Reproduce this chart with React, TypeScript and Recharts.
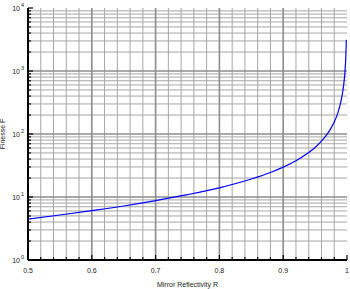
import React from 'react';
import { LineChart, Line, XAxis, YAxis, ReferenceLine } from 'recharts';

const reflectivity = [0.5, 0.55, 0.6, 0.65, 0.7, 0.75, 0.8, 0.85, 0.88, 0.9, 0.92, 0.94, 0.95, 0.96, 0.97, 0.975, 0.98, 0.985, 0.99, 0.992, 0.994, 0.995, 0.996, 0.997, 0.998, 0.999];
const finesse = [4.44, 5.18, 6.08, 7.2, 8.76, 10.9, 14.0, 19.3, 24.5, 29.8, 37.7, 50.8, 61.2, 76.9, 103, 124, 155, 207, 313, 392, 523, 627, 784, 1047, 1570, 3140];

const xMajorTicks = [0.5, 0.6, 0.7, 0.8, 0.9, 1];
const xTickLabels = ['0.5', '0.6', '0.7', '0.8', '0.9', '1'];
const xMinorTicks = [0.52, 0.54, 0.56, 0.58, 0.62, 0.64, 0.66, 0.68, 0.72, 0.74, 0.76, 0.78, 0.82, 0.84, 0.86, 0.88, 0.92, 0.94, 0.96, 0.98];
const yMajorTicks = [1, 10, 100, 1000, 10000];
const yExponents = ['0', '1', '2', '3', '4'];
const yMinorTicks = [2, 3, 4, 5, 6, 7, 8, 9, 20, 30, 40, 50, 60, 70, 80, 90, 200, 300, 400, 500, 600, 700, 800, 900, 2000, 3000, 4000, 5000, 6000, 7000, 8000, 9000];

const data = reflectivity.map((r, i) => ({ r, f: finesse[i] }));
const allX = [...xMajorTicks, ...xMinorTicks].sort((a, b) => a - b);
const allY = [...yMajorTicks, ...yMinorTicks].sort((a, b) => a - b);

const FONT = 'Liberation Sans, Arial, sans-serif';

const BottomTick = (props: any) => {
  const { x, y, payload } = props;
  const v = payload.value;
  const idx = xMajorTicks.findIndex((t) => Math.abs(t - v) < 1e-9);
  const major = idx >= 0;
  return (
    <g>
      <line x1={x} x2={x} y1={y} y2={y - (major ? 5 : 3)} stroke="#000" strokeWidth={1.2} />
      {major && (
        <text x={x} y={y + 13} textAnchor="middle" fontSize={7} fontFamily={FONT} fill="#222">
          {xTickLabels[idx]}
        </text>
      )}
    </g>
  );
};

const TopTick = (props: any) => {
  const { x, y, payload } = props;
  const v = payload.value;
  const major = xMajorTicks.some((t) => Math.abs(t - v) < 1e-9);
  return <line x1={x} x2={x} y1={y} y2={y + (major ? 5 : 3)} stroke="#000" strokeWidth={1.2} />;
};

const LeftTick = (props: any) => {
  const { x, y, payload } = props;
  const v = payload.value;
  const idx = yMajorTicks.findIndex((t) => Math.abs(t - v) < 1e-9);
  const major = idx >= 0;
  return (
    <g>
      <line x1={x} x2={x + (major ? 5 : 3)} y1={y} y2={y} stroke="#000" strokeWidth={1.2} />
      {major && (
        <text x={x - 8} y={y + 2.5} textAnchor="end" fontSize={7} fontFamily={FONT} fill="#222">
          10
        </text>
      )}
      {major && (
        <text x={x - 7} y={y - 1} textAnchor="start" fontSize={5.5} fontFamily={FONT} fill="#222">
          {yExponents[idx]}
        </text>
      )}
    </g>
  );
};

const RightTick = (props: any) => {
  const { x, y, payload } = props;
  const v = payload.value;
  const major = yMajorTicks.some((t) => Math.abs(t - v) < 1e-9);
  return <line x1={x} x2={x - (major ? 5 : 3)} y1={y} y2={y} stroke="#000" strokeWidth={1.2} />;
};

export default function App() {
  return (
    <div style={{ position: 'absolute', left: 0, top: 0, width: 350, height: 289, background: '#fff' }}>
      <LineChart width={350} height={289} data={data} margin={{ top: 8, right: 3, bottom: 0, left: 0 }}>
        <XAxis
          xAxisId="b"
          dataKey="r"
          type="number"
          domain={[0.5, 1]}
          ticks={allX}
          interval={0}
          height={29}
          tickSize={0}
          tickMargin={0}
          tick={<BottomTick />}
          axisLine={{ stroke: '#000', strokeWidth: 2 }}
          tickLine={false}
          allowDataOverflow
          label={{ value: 'Mirror Reflectivity R', position: 'insideBottom', offset: 2, fontSize: 7, fontFamily: FONT, fill: '#222' }}
        />
        <XAxis
          xAxisId="t"
          orientation="top"
          dataKey="r"
          type="number"
          domain={[0.5, 1]}
          ticks={allX}
          interval={0}
          height={0}
          tickSize={0}
          tickMargin={0}
          tick={<TopTick />}
          axisLine={{ stroke: '#000', strokeWidth: 2 }}
          tickLine={false}
          allowDataOverflow
        />
        <YAxis
          yAxisId="l"
          dataKey="f"
          scale="log"
          type="number"
          domain={[1, 10000]}
          ticks={allY}
          interval={0}
          width={28}
          tickSize={0}
          tickMargin={0}
          tick={<LeftTick />}
          axisLine={{ stroke: '#000', strokeWidth: 2 }}
          tickLine={false}
          allowDataOverflow
          label={{ value: 'Finesse F', angle: -90, position: 'insideLeft', offset: 3, fontSize: 7, fontFamily: FONT, fill: '#222', style: { textAnchor: 'middle' } }}
        />
        <YAxis
          yAxisId="r"
          orientation="right"
          dataKey="f"
          scale="log"
          type="number"
          domain={[1, 10000]}
          ticks={allY}
          interval={0}
          width={0}
          tickSize={0}
          tickMargin={0}
          tick={<RightTick />}
          axisLine={{ stroke: '#000', strokeWidth: 2 }}
          tickLine={false}
          allowDataOverflow
        />
        {xMinorTicks.map((v) => (
          <ReferenceLine key={'vx' + v} x={v} xAxisId="b" yAxisId="l" stroke="#a6a6a6" strokeWidth={1} />
        ))}
        {yMinorTicks.map((v) => (
          <ReferenceLine key={'hy' + v} y={v} xAxisId="b" yAxisId="l" stroke="#a6a6a6" strokeWidth={1} />
        ))}
        {xMajorTicks.slice(1, -1).map((v) => (
          <ReferenceLine key={'vX' + v} x={v} xAxisId="b" yAxisId="l" stroke="#8c8c8c" strokeWidth={1.6} />
        ))}
        {yMajorTicks.slice(1, -1).map((v) => (
          <ReferenceLine key={'hY' + v} y={v} xAxisId="b" yAxisId="l" stroke="#8c8c8c" strokeWidth={1.6} />
        ))}
        <Line
          xAxisId="b"
          yAxisId="l"
          dataKey="f"
          type="monotone"
          stroke="#0000ff"
          strokeWidth={1.2}
          dot={false}
          isAnimationActive={false}
        />
      </LineChart>
    </div>
  );
}
